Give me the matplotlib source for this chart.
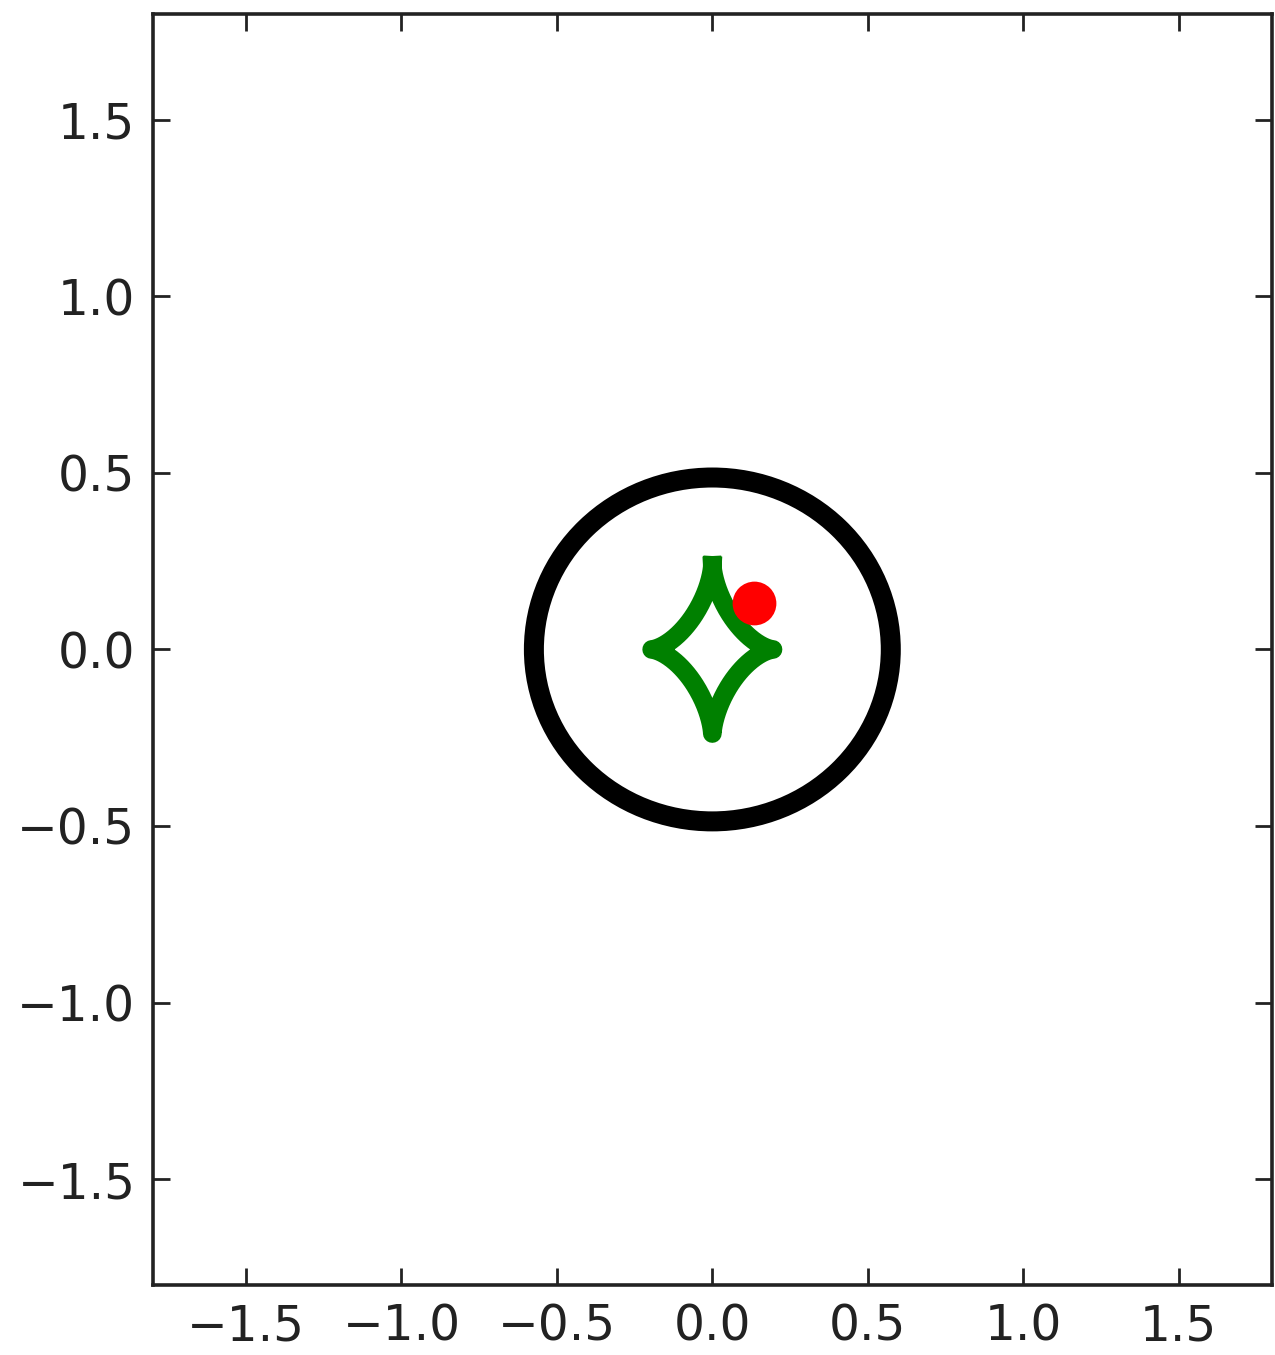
import numpy as np
import matplotlib
matplotlib.use("Agg")
import matplotlib.pyplot as plt
from matplotlib.patches import Ellipse

# ---- data ----
critical_center = (0.0, 0.0)
critical_rx = 0.574          # horizontal semi-axis of black critical curve
critical_ry = 0.487          # vertical semi-axis of black critical curve
caustic_ax = 0.195           # horizontal cusp distance of green caustic
caustic_ay = 0.238           # vertical cusp distance of green caustic
source_x = [0.133]
source_y = [0.132]
ticks = [-1.5, -1.0, -0.5, 0.0, 0.5, 1.0, 1.5]
xlim = (-1.8, 1.8)
ylim = (-1.8, 1.8)

plt.rcParams['font.family'] = ['DejaVu Sans']

fig = plt.figure(figsize=(12.75, 13.55), dpi=100)
ax = fig.add_axes([0.1198, 0.0517, 0.9976 - 0.1198, 0.9897 - 0.0517])

# black critical curve
ax.add_patch(Ellipse(critical_center, 2 * critical_rx, 2 * critical_ry,
                     fill=False, edgecolor='black', linewidth=14.4, zorder=2))

# green caustic (astroid), starting and ending at the upper cusp
t = np.linspace(np.pi / 2, np.pi / 2 + 2 * np.pi, 600)
ax.plot(caustic_ax * np.cos(t) ** 3, caustic_ay * np.sin(t) ** 3,
        color='green', linewidth=13.5, solid_capstyle='projecting',
        solid_joinstyle='round', zorder=3)

# red source point
ax.plot(source_x, source_y, 'o', color='red', markersize=31.5,
        markeredgewidth=0, zorder=4)

ax.set_xlim(*xlim)
ax.set_ylim(*ylim)
ax.set_xticks(ticks)
ax.set_yticks(ticks)
ax.tick_params(direction='in', top=True, right=True, length=12, width=2.0,
               labelsize=35, pad=12.5, colors='#222222')
for s in ax.spines.values():
    s.set_linewidth(2.6)
    s.set_color('#222222')

fig.savefig("out.png", dpi=100)
